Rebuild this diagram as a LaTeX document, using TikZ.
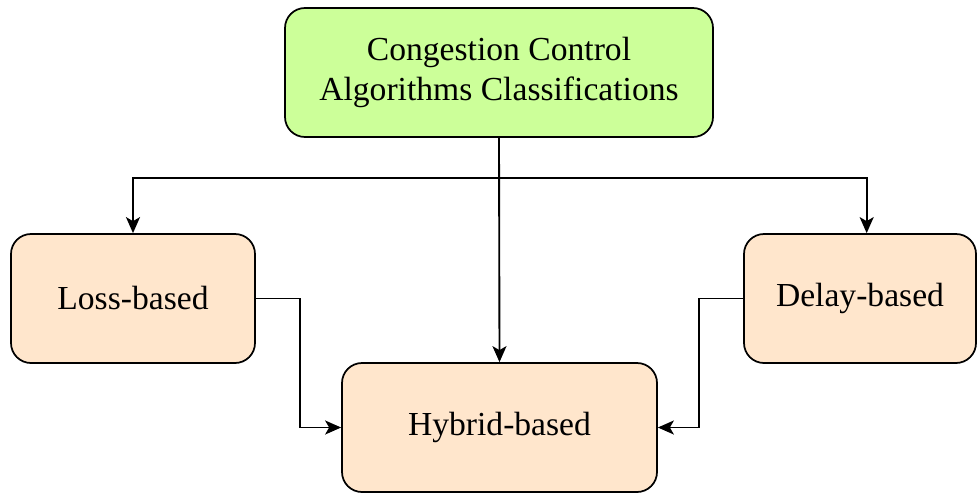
\documentclass[tikz,border=0pt]{standalone}
\usepackage{fontspec}
\setmainfont{Liberation Serif}
\usetikzlibrary{arrows.meta}
\definecolor{topfill}{HTML}{CCFF99}
\definecolor{catfill}{HTML}{FFE6CC}
\begin{document}
\begin{tikzpicture}[x=0.75pt,y=-0.75pt,
  box/.style={draw=black, line width=1.3pt, rounded corners=15pt, align=center,
    font=\fontsize{25.2}{30}\selectfont, minimum height=96.75pt, inner sep=0pt},
  link/.style={line width=1.4pt, -{Stealth[length=12pt,width=10.5pt,inset=3pt]}}]
\useasboundingbox (0,0) rectangle (977,493);
\node[box, fill=topfill, minimum width=321pt] (top) at (499,72.5)
  {Congestion Control\\Algorithms Classifications};
\node[box, fill=catfill, minimum width=183pt] (loss) at (133,298.5) {Loss-based};
\node[box, fill=catfill, minimum width=174pt] (delay) at (860,298.5) {Delay-based};
\node[box, fill=catfill, minimum width=236.25pt] (hybrid) at (499.5,427.5) {Hybrid-based};
\coordinate (fork) at (499,178);
\draw[link] (top.south) -- (hybrid.north);
\draw[link] (fork) -| (loss.north);
\draw[link] (fork) -| ([xshift=5pt]delay.north);
\draw[link] (loss.east) -- ++(44,0) |- (hybrid.west);
\draw[link] (delay.west) -- ++(-44,0) |- (hybrid.east);
\end{tikzpicture}
\end{document}
